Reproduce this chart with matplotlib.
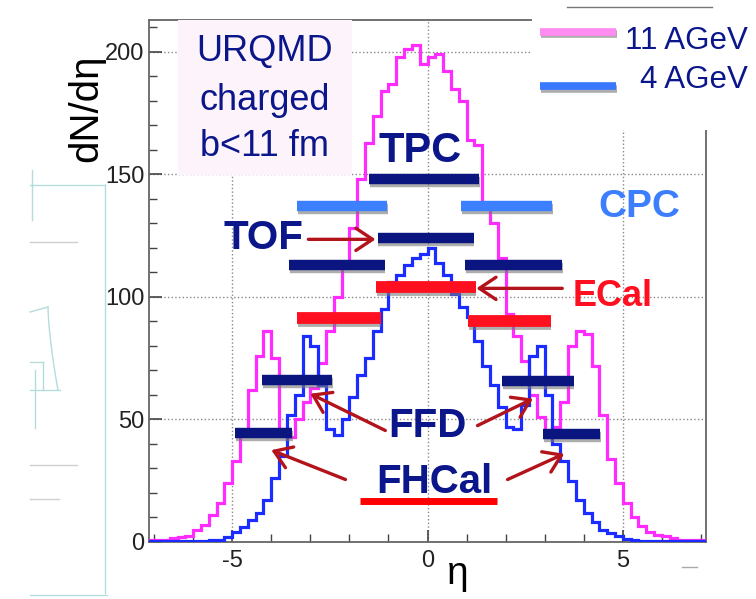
import numpy as np
import matplotlib.pyplot as plt
import matplotlib.patheffects as pe
from matplotlib.patches import Rectangle
from matplotlib.lines import Line2D

plt.rcParams['font.family'] = ['Liberation Sans', 'DejaVu Sans']
plt.rcParams['axes.unicode_minus'] = False

# pseudorapidity binning (0.2 wide)
eta_edges = np.round(np.arange(-7.2, 7.21, 0.2), 2)

# dN/deta, charged particles, UrQMD b<11 fm
dndeta_11 = [1, 1, 1, 1.5, 2, 2.5, 5, 7, 11, 16, 24, 33, 44, 62, 76, 86, 75, 46, 43,
             50, 57, 63, 73, 86, 100, 113, 128, 148, 163, 174, 184, 187, 198, 201, 203, 195,
             198, 199, 192, 185, 180, 164, 162, 138, 130, 116,
             93, 84, 74, 60, 51, 44, 47, 57, 80, 86,
             85, 72, 52, 34, 24, 16, 10, 6.5, 4, 3,
             2.5, 1.5, 1, 1, 1, 1]
dndeta_4 = [0.3, 0.3, 0.3, 0.3, 0.3, 0.3, 0.5, 0.5, 0.8,
            1, 2, 4, 6, 9, 12, 17, 26, 35, 52,
            60, 84, 80, 64, 46, 43.5, 50, 59, 68, 75,
            86, 95, 106, 109, 113, 116, 117.5,
            120, 114, 109, 101, 96, 92, 82, 72, 64, 55,
            47, 46, 56, 76, 80, 60, 40, 33, 25, 17,
            12, 8, 5, 3.5, 2.5, 1.2, 0.8,
            0.5, 0.5, 0.3, 0.3, 0.3, 0.3, 0.3, 0.3, 0.3]

series_labels = ['11 AGeV', '4 AGeV']

# detector acceptance bars: eta range and drawing level
bar_eta_lo = [-1.49, -3.33, 0.85, -1.28, -3.54, 0.97, -1.31, -3.33, 1.03, -4.23, 1.92, -4.92, 2.95]
bar_eta_hi = [1.33, -1.03, 3.18, 1.18, -1.10, 3.44, 1.23, -1.20, 3.15, -2.44, 3.74, -3.46, 4.41]
bar_level = [148, 137, 137, 124, 113, 113, 104, 91.3, 90.2, 66, 65.8, 44.3, 44.1]
bar_kind = ['navy', 'light', 'light', 'navy', 'navy', 'navy', 'red', 'red', 'red',
            'navy', 'navy', 'navy', 'navy']

det_names = ['TPC', 'CPC', 'TOF', 'ECal', 'FFD', 'FHCal']

# arrows: (tail eta, tail y) -> (head eta, head y)
arrow_tail = [(-3.05, 123.5), (3.45, 103.5), (-1.08, 45.5), (1.28, 47.5), (-2.1, 25.5), (2.05, 25.5)]
arrow_head = [(-1.33, 123.5), (1.25, 103.5), (-3.0, 60.5), (2.7, 58.5), (-4.0, 37.5), (3.5, 36)]

W, H = 756, 599
navy = '#0b168a'
colors = {'navy': '#0a1580', 'light': '#3d80ff', 'red': '#ff1020'}


def fxy(x, y):
    return x / W, 1 - y / H


fig = plt.figure(figsize=(W / 100, H / 100), dpi=100)
ax = fig.add_axes([149 / W, 1 - 542 / H, (706 - 149) / W, (542 - 20) / H])

ax.stairs(dndeta_11, eta_edges, color='#ff2cff', lw=2.3, zorder=3)
ax.stairs(dndeta_4, eta_edges, color='#1a2cff', lw=2.3, zorder=3)

shadow = [pe.SimpleLineShadow(offset=(0.6, -2.0), shadow_color='#777777', alpha=0.6), pe.Normal()]
for lo, hi, lev, kind in zip(bar_eta_lo, bar_eta_hi, bar_level, bar_kind):
    lw = 8.5 if kind == 'red' else 7.5
    ax.plot([lo, hi], [lev, lev], color=colors[kind], lw=lw, solid_capstyle='butt',
            path_effects=shadow, zorder=5)

# red line under FHCal
ax.plot([-1.74, 1.79], [16.8, 16.8], color='#ff0000', lw=5, solid_capstyle='butt', zorder=5)

for (tx, ty), (hx, hy) in zip(arrow_tail, arrow_head):
    ax.annotate('', xy=(hx, hy), xytext=(tx, ty),
                arrowprops=dict(arrowstyle='->,head_length=0.6,head_width=0.4',
                                color='#b3141c', lw=2.4, mutation_scale=20, shrinkA=0, shrinkB=0),
                zorder=6)

lab_style = dict(ha='center', va='center', fontweight='bold', zorder=7)
ax.text(-0.2, 159.5, det_names[0], color=navy, fontsize=30, **lab_style)
ax.text(5.41, 136.5, det_names[1], color='#3d7eff', fontsize=28, **lab_style)
ax.text(-4.2, 124.2, det_names[2], color=navy, fontsize=29, **lab_style)
ax.text(4.74, 100, det_names[3], color='#ff1020', fontsize=26, **lab_style)
ax.text(0.0, 47.5, det_names[4], color=navy, fontsize=29, **lab_style)
ax.text(0.18, 24.6, det_names[5], color=navy, fontsize=29, **lab_style)

ax.set_xlim(-7.13, 7.13)
ax.set_ylim(0, 213)
ax.set_xticks([-5, 0, 5])
ax.set_xticks(np.arange(-7, 8, 1), minor=True)
ax.set_yticks([0, 50, 100, 150, 200])
ax.set_yticks(np.arange(0, 211, 10), minor=True)
ax.tick_params(which='both', direction='in', top=False, right=False, labelsize=17,
               labelcolor='#222222', color='#444444')
ax.tick_params(which='major', length=9, width=1.2)
ax.tick_params(which='minor', length=6, width=1.0)
ax.tick_params(axis='x', pad=6)
ax.grid(True, which='major', linestyle=':', color='#888888', lw=1.0)
for s in ax.spines.values():
    s.set_color('#666666')
    s.set_linewidth(1.3)

# axis titles
fig.text(*fxy(86, 108), 'dN/dη', rotation=90, fontsize=29, ha='center', va='center', color='black')
fig.text(*fxy(458, 574), 'η', fontsize=28, ha='center', va='center', color='black')

# model info box
x0, y0 = fxy(178, 175)
x1, y1 = fxy(352, 20)
fig.add_artist(Rectangle((x0, y0), x1 - x0, y1 - y0, transform=fig.transFigure,
                         facecolor='#fcf4fa', edgecolor='none', zorder=2))
for txt, yy in zip(['URQMD', 'charged', 'b<11 fm'], [52, 100, 146]):
    fig.text(*fxy(265, yy), txt, fontsize=26, color=navy, ha='center', va='center', zorder=3)

# legend box
lx0, ly0 = fxy(532, 130)
fig.add_artist(Rectangle((lx0, ly0), 1 - lx0, 1 - ly0, transform=fig.transFigure,
                         facecolor='white', edgecolor='none', zorder=2))
fig.add_artist(Line2D([567 / W, 712 / W], [1 - 7 / H, 1 - 7 / H], transform=fig.transFigure,
                      color='#777777', lw=1.0, zorder=3))
for lab, col, yy, ty in zip(series_labels, ['#ff8cf0', '#3a78ff'], [31.5, 86], [41, 80]):
    fig.add_artist(Line2D([540 / W, 616 / W], [1 - yy / H, 1 - yy / H], transform=fig.transFigure,
                          color=col, lw=5.5, solid_capstyle='butt', path_effects=shadow, zorder=3))
    fig.text(*fxy(748, ty), lab, fontsize=22.5, color=navy, ha='right', va='center', zorder=3)

# faint leftover drafting marks at left edge
teal = '#b5dcdc'
gray = '#d0d0d0'
marks = [
    ([105, 105], [185, 593], teal), ([30, 105], [185, 185], teal), ([32, 32], [170, 220], teal),
    ([30, 77], [242, 242], gray), ([30, 60], [390, 390], teal), ([30, 43], [362, 362], teal),
    ([35, 35], [370, 428], teal), ([43, 43], [362, 390], teal), ([30, 77], [465, 465], gray),
    ([30, 59], [499, 499], gray), ([30, 107], [595, 595], teal), ([30, 48], [312, 307], teal),
    ([682, 697], [567, 567], '#aaaaaa'),
]
for xs, ys, c in marks:
    fig.add_artist(Line2D([x / W for x in xs], [1 - y / H for y in ys], transform=fig.transFigure,
                          color=c, lw=1.0))
arc_t = np.linspace(0, 1, 20)
fig.add_artist(Line2D((48 + 10 * arc_t ** 1.5) / W, 1 - (307 + 83 * arc_t) / H,
                      transform=fig.transFigure, color=teal, lw=1.0))

fig.savefig('out.png', dpi=100)
